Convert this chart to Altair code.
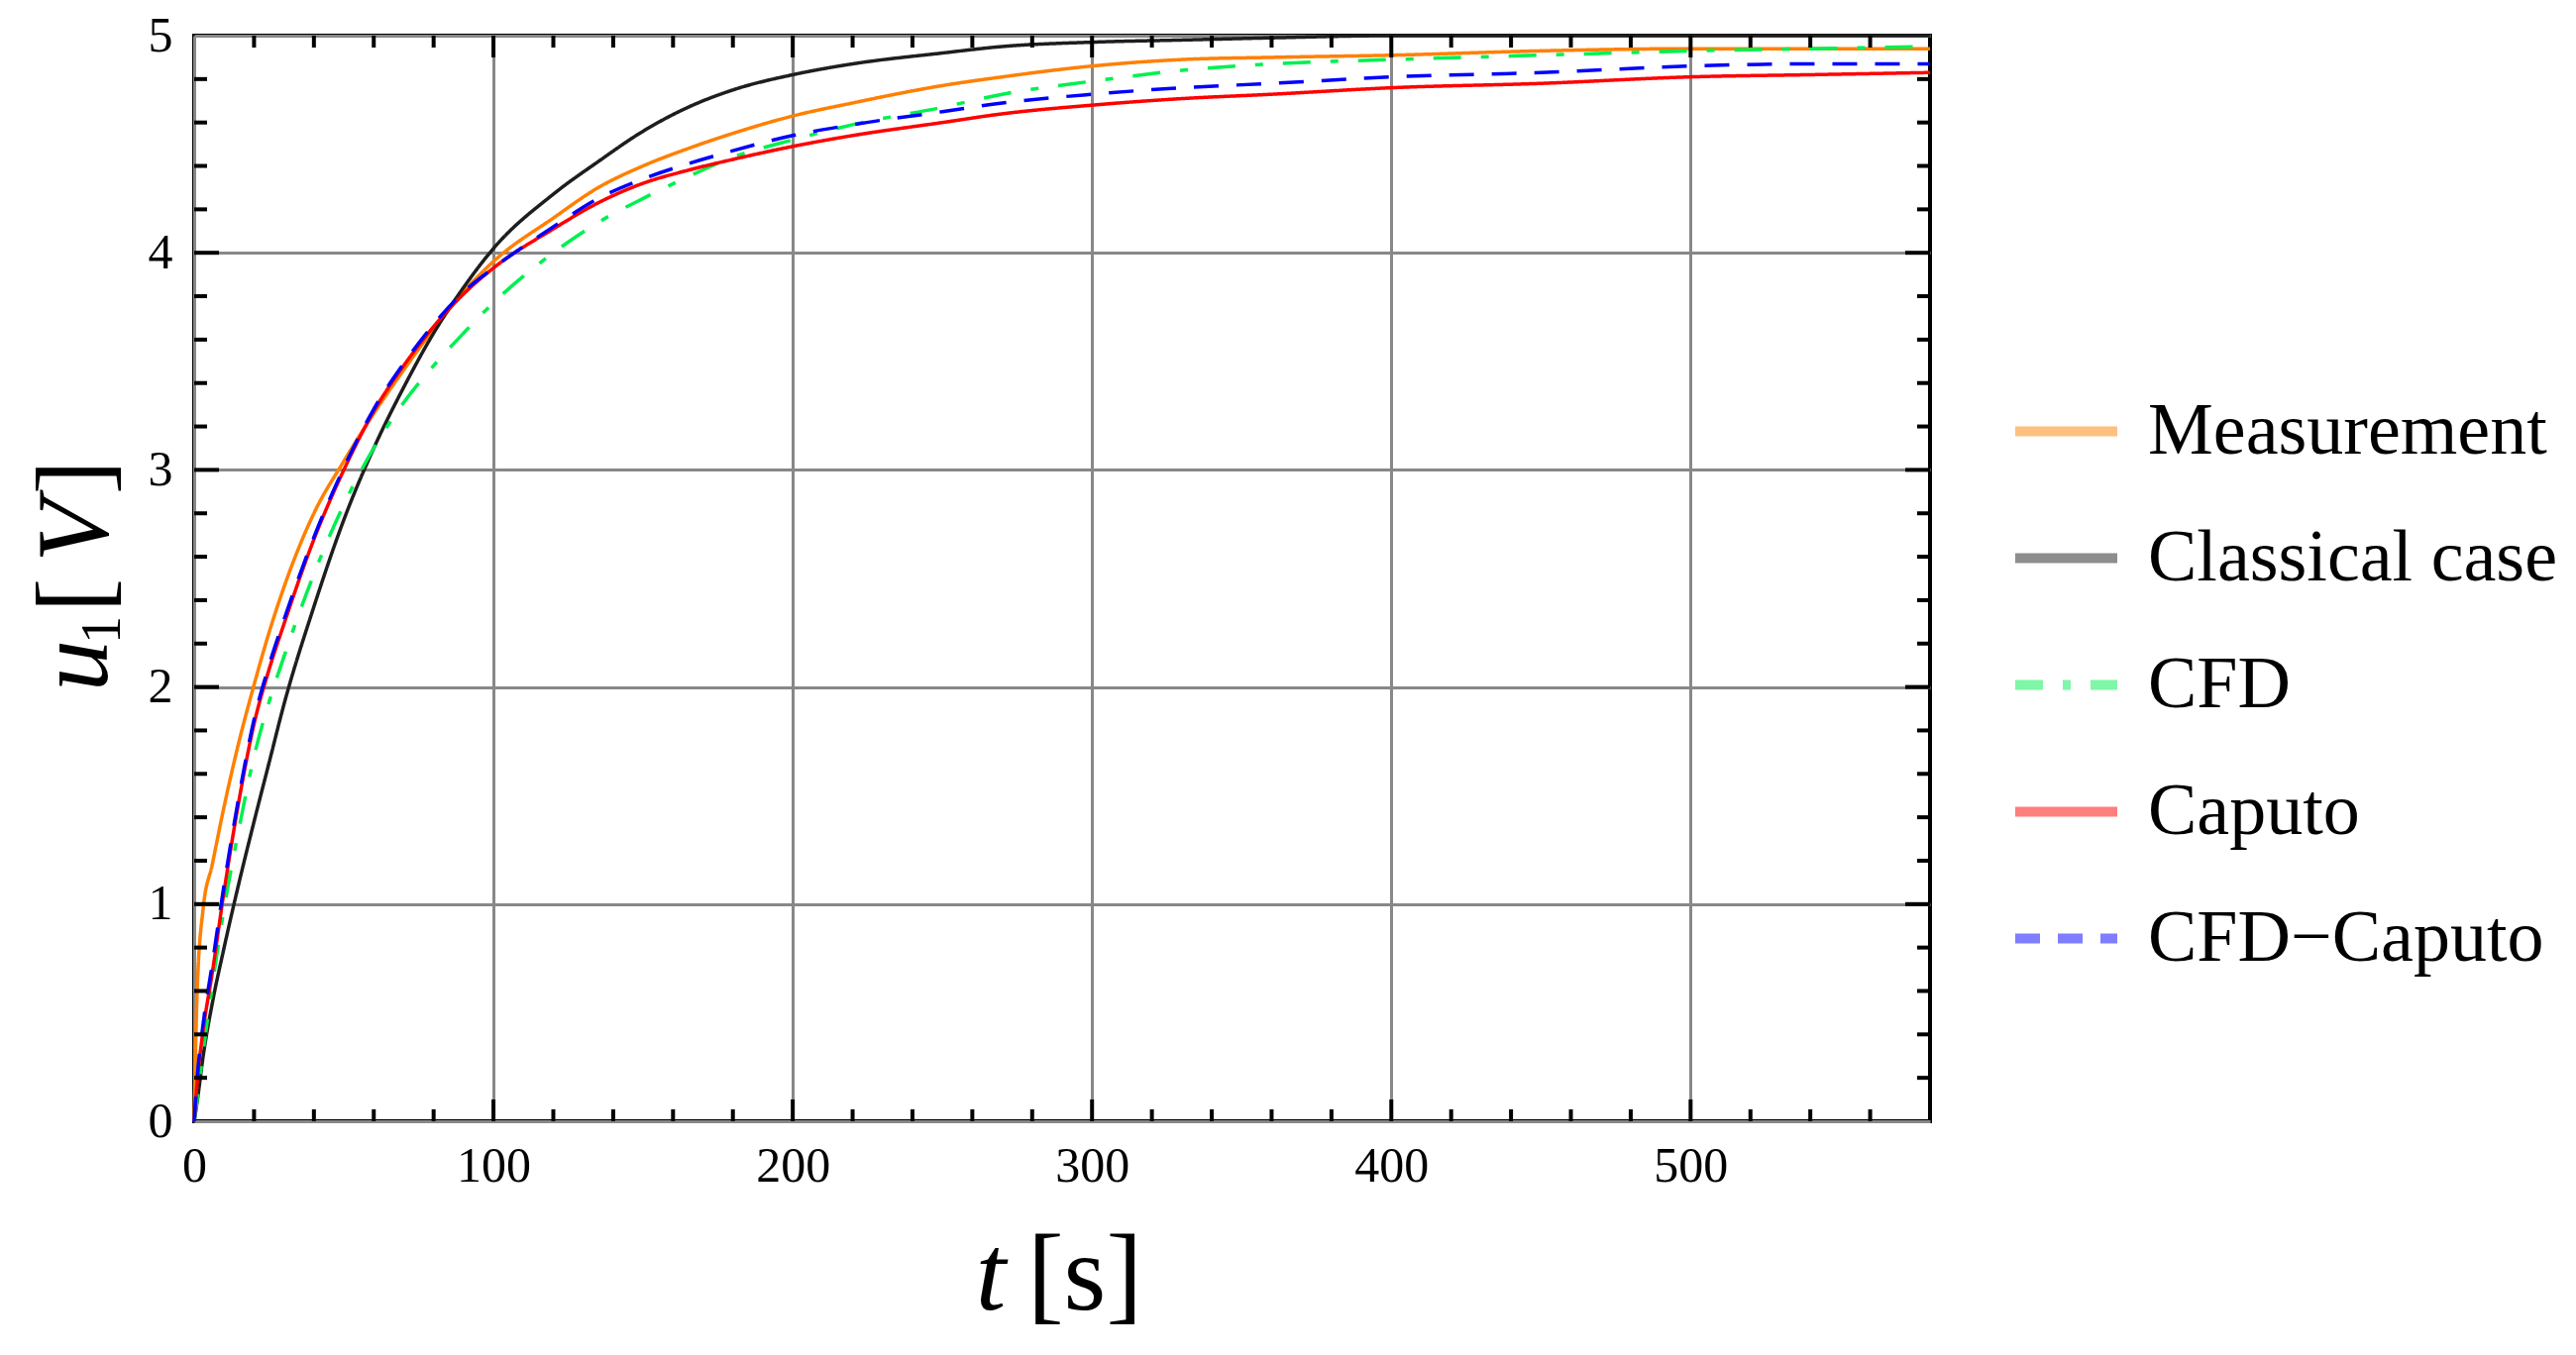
import altair as alt
import pandas as pd

# ---------------- data ----------------
t_grid = [0, 1, 3, 6, 10, 15, 20, 25, 30, 40, 50, 60, 70, 80, 90, 100, 120, 135,
          150, 165, 180, 200, 220, 250, 270, 300, 330, 360, 400, 450, 500, 540, 580]

measurement = [0.0, 0.60, 0.98, 1.18, 1.45, 1.75, 2.01, 2.25, 2.46, 2.80, 3.04, 3.26,
               3.46, 3.65, 3.82, 3.96, 4.16, 4.30, 4.40, 4.48, 4.55, 4.63, 4.69, 4.77,
               4.81, 4.86, 4.89, 4.90, 4.91, 4.93, 4.94, 4.94, 4.94]
classical = [0.0, 0.09, 0.30, 0.54, 0.80, 1.10, 1.38, 1.65, 1.92, 2.37, 2.77, 3.10,
             3.38, 3.63, 3.84, 4.02, 4.27, 4.42, 4.56, 4.67, 4.75, 4.82, 4.87, 4.92,
             4.95, 4.97, 4.98, 4.99, 5.0, 5.0, 5.0, 5.0, 5.0]
cfd = [0.0, 0.10, 0.32, 0.62, 0.98, 1.35, 1.68, 1.93, 2.14, 2.52, 2.84, 3.10,
       3.31, 3.48, 3.63, 3.77, 4.00, 4.14, 4.25, 4.35, 4.44, 4.52, 4.59, 4.67,
       4.73, 4.79, 4.84, 4.87, 4.89, 4.91, 4.93, 4.94, 4.95]
caputo = [0.0, 0.18, 0.42, 0.68, 1.06, 1.48, 1.83, 2.08, 2.29, 2.68, 3.00, 3.27,
          3.48, 3.66, 3.81, 3.93, 4.11, 4.23, 4.32, 4.38, 4.43, 4.49, 4.54, 4.60,
          4.64, 4.68, 4.71, 4.73, 4.76, 4.78, 4.81, 4.82, 4.83]
cfd_caputo = [0.0, 0.20, 0.45, 0.72, 1.09, 1.50, 1.85, 2.10, 2.31, 2.69, 3.01, 3.28,
              3.49, 3.67, 3.82, 3.93, 4.12, 4.25, 4.34, 4.41, 4.47, 4.54, 4.59, 4.65,
              4.69, 4.73, 4.76, 4.78, 4.81, 4.83, 4.86, 4.87, 4.87]

series_names = ["Measurement", "Classical case", "CFD", "Caputo", "CFD\u2212Caputo"]
series_values = [measurement, classical, cfd, caputo, cfd_caputo]
series_colors = ["#FF8000", "#1E1E1E", "#00F050", "#FF0000", "#0000FF"]
series_dashes = [[1, 0], [1, 0], [28, 20, 8, 20], [1, 0], [25, 18]]

x_labels = [0, 100, 200, 300, 400, 500]
y_labels = [0, 1, 2, 3, 4, 5]
x_minor = [v for v in range(20, 580, 20) if v % 100 != 0]
x_major = [100, 200, 300, 400, 500]
y_minor = [round(i * 0.2, 1) for i in range(1, 25) if i % 5 != 0]
y_major = [1, 2, 3, 4]

rows = []
for name, vals in zip(series_names, series_values):
    for order, (t, v) in enumerate(zip(t_grid, vals)):
        rows.append({"t": t, "u": v, "series": name, "order": order})
df = pd.DataFrame(rows)

# ---------------- layout ----------------
W, H = 1752, 1096
FONT = "Liberation Serif"

x_scale = alt.Scale(domain=[0, 580], nice=False, zero=False)
y_scale = alt.Scale(domain=[0, 5], nice=False, zero=False)
x_axis = alt.Axis(values=x_labels, title=None, ticks=False, tickSize=0,
                  domain=False, grid=True, gridColor="#888888", gridWidth=3,
                  labelFont=FONT, labelFontSize=50, labelColor="black",
                  labelPadding=20, labelFlush=False, labelOverlap=False)
y_axis = alt.Axis(values=y_labels, title=None, ticks=False, tickSize=0,
                  domain=False, grid=True, gridColor="#888888", gridWidth=3,
                  labelFont=FONT, labelFontSize=50, labelColor="black",
                  labelPadding=22, labelFlush=False, labelOverlap=False)

legend = alt.Legend(
    title=None, orient="none", legendX=1833, legendY=343, direction="vertical",
    symbolType="stroke", symbolSize=10609, symbolStrokeWidth=10, symbolOpacity=0.5,
    labelFont=FONT, labelFontSize=74, labelColor="black", labelOffset=26,
    rowPadding=34, labelLimit=600,
)

lines = alt.Chart(df).mark_line(strokeWidth=3.5, interpolate="monotone").encode(
    x=alt.X("t:Q", scale=x_scale, axis=x_axis),
    y=alt.Y("u:Q", scale=y_scale, axis=y_axis),
    color=alt.Color("series:N", sort=series_names,
                    scale=alt.Scale(domain=series_names, range=series_colors),
                    legend=legend),
    strokeDash=alt.StrokeDash("series:N", sort=series_names,
                              scale=alt.Scale(domain=series_names, range=series_dashes),
                              legend=legend),
    order="order:Q",
)

def xticks(vals, length, top):
    d = pd.DataFrame({"t": vals})
    y0 = 0 if top else H
    y1 = length if top else H - length
    return alt.Chart(d).mark_rule(color="black", strokeWidth=4).encode(
        x=alt.X("t:Q", scale=x_scale, axis=x_axis), y=alt.value(y0), y2=alt.value(y1))

def yticks(vals, length, right):
    d = pd.DataFrame({"u": vals})
    x0 = W if right else 0
    x1 = W - length if right else length
    return alt.Chart(d).mark_rule(color="black", strokeWidth=4).encode(
        y=alt.Y("u:Q", scale=y_scale, axis=y_axis), x=alt.value(x0), x2=alt.value(x1))

tick_layers = [
    xticks(x_minor, 12, False), xticks(x_major, 22, False),
    xticks(x_minor, 12, True), xticks(x_major, 22, True),
    yticks(y_minor, 13, False), yticks(y_major, 25, False),
    yticks(y_minor, 13, True), yticks(y_major, 25, True),
]

one = pd.DataFrame({"a": [0]})

def txt(s, x, y, size, italic=False, angle=0, baseline="alphabetic"):
    kw = dict(text=s, font=FONT, fontSize=size, color="black", align="center",
              baseline=baseline, angle=angle)
    if italic:
        kw["fontStyle"] = "italic"
    return alt.Chart(one).mark_text(**kw).encode(x=alt.value(x), y=alt.value(y))

title_layers = [
    # x title: t [s]
    txt("t", 804, 1286, 110, italic=True),
    txt("[s]", 899, 1286, 110),
    # y title: u1 [V], rotated
    txt("u", -88, 636, 104, italic=True, angle=270),
    txt("1", -75, 600, 56, angle=270),
    txt("[", -88, 565, 104, angle=270),
    txt("V", -88, 500, 104, italic=True, angle=270),
    txt("]", -88, 446, 104, angle=270),
]

chart = alt.layer(lines, *tick_layers, *title_layers).properties(
    width=W, height=H,
    autosize=alt.AutoSizeParams(type="none"),
    padding={"left": 188, "top": 28, "right": 644, "bottom": 228},
).configure(background="white").configure_view(stroke="black", strokeWidth=4)

chart.save("out.html", embed_options={"renderer": "svg", "actions": False})
